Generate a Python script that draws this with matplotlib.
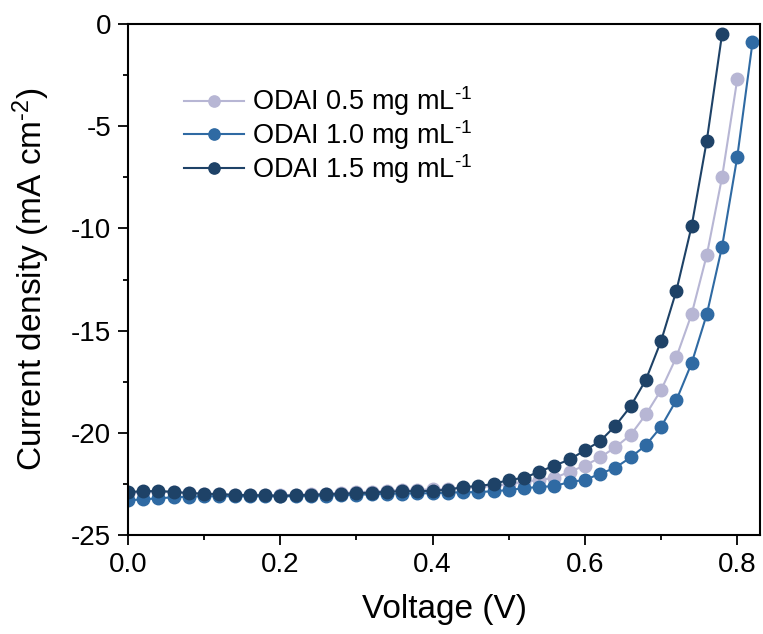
import matplotlib
matplotlib.use("Agg")
import matplotlib.pyplot as plt
import numpy as np
from matplotlib.ticker import MultipleLocator

plt.rcParams['font.family'] = ['Liberation Sans', 'DejaVu Sans']
plt.rcParams['mathtext.fontset'] = 'custom'
plt.rcParams['mathtext.rm'] = 'Liberation Sans'
plt.rcParams['mathtext.it'] = 'Liberation Sans:italic'
plt.rcParams['mathtext.bf'] = 'Liberation Sans:bold'
plt.rcParams['axes.unicode_minus'] = False

# J-V sweeps, voltage step 0.02 V
voltage_05 = np.round(np.arange(0, 0.81, 0.02), 2)
voltage_10 = np.round(np.arange(0, 0.83, 0.02), 2)
voltage_15 = np.round(np.arange(0, 0.79, 0.02), 2)

j_05 = [-22.95, -22.90, -22.88, -22.90, -22.95, -22.97, -23.00, -23.02, -23.03, -23.03,
        -23.05, -23.02, -23.00, -22.97, -22.93, -22.90, -22.87, -22.83, -22.78, -22.78,
        -22.76, -22.74, -22.70, -22.65, -22.60, -22.50, -22.40, -22.30, -22.20, -21.90,
        -21.60, -21.20, -20.70, -20.10, -19.10, -17.90, -16.30, -14.20, -11.30, -7.50,
        -2.70]
j_10 = [-23.30, -23.25, -23.20, -23.15, -23.12, -23.10, -23.10, -23.10, -23.10, -23.10,
        -23.10, -23.10, -23.08, -23.07, -23.05, -23.03, -23.00, -22.98, -22.97, -22.96,
        -22.95, -22.93, -22.90, -22.90, -22.85, -22.80, -22.70, -22.65, -22.60, -22.40,
        -22.30, -22.00, -21.70, -21.20, -20.60, -19.70, -18.40, -16.60, -14.20, -10.90,
        -6.50, -0.90]
j_15 = [-22.90, -22.85, -22.85, -22.88, -22.95, -22.97, -23.00, -23.03, -23.05, -23.05,
        -23.08, -23.05, -23.03, -23.00, -22.97, -22.95, -22.92, -22.88, -22.85, -22.85,
        -22.83, -22.78, -22.65, -22.60, -22.50, -22.30, -22.20, -21.90, -21.60, -21.30,
        -20.85, -20.40, -19.65, -18.70, -17.40, -15.50, -13.05, -9.90, -5.70, -0.50]

labels = [r'ODAI 0.5 mg mL$^{\text{-1}}$', r'ODAI 1.0 mg mL$^{\text{-1}}$',
          r'ODAI 1.5 mg mL$^{\text{-1}}$']
colors = ['#b7b6d4', '#2f6aa3', '#1e4267']

fig = plt.figure(figsize=(7.63, 6.34), dpi=100)
ax = fig.add_axes([0.1678, 0.156, 0.8284, 0.806])

series = [(voltage_05, j_05), (voltage_10, j_10), (voltage_15, j_15)]
for (v, j), lab, c in zip(series, labels, colors):
    ax.plot(v, j, '-o', color=c, lw=1.5, ms=9, mec=c, label=lab)

ax.set_xlim(0, 0.83)
ax.set_ylim(-25, 0)
ax.xaxis.set_major_locator(MultipleLocator(0.2))
ax.xaxis.set_minor_locator(MultipleLocator(0.1))
ax.yaxis.set_major_locator(MultipleLocator(5))
ax.yaxis.set_minor_locator(MultipleLocator(2.5))
ax.tick_params(which='major', direction='out', length=7, width=1.3, labelsize=20, pad=5)
ax.tick_params(which='minor', direction='out', length=3.5, width=1.3)
for s in ax.spines.values():
    s.set_linewidth(1.5)

ax.set_xlabel('Voltage (V)', fontsize=24, labelpad=12)
ax.set_ylabel(r'Current density (mA cm$^{\text{-2}}$)', fontsize=24, labelpad=14)

ax.legend(loc='upper left', bbox_to_anchor=(0.05, 0.93), frameon=False, fontsize=19.5,
          handlelength=2.2, handletextpad=0.3, labelspacing=0.0, markerscale=0.9)

fig.savefig('out.png', dpi=100)
